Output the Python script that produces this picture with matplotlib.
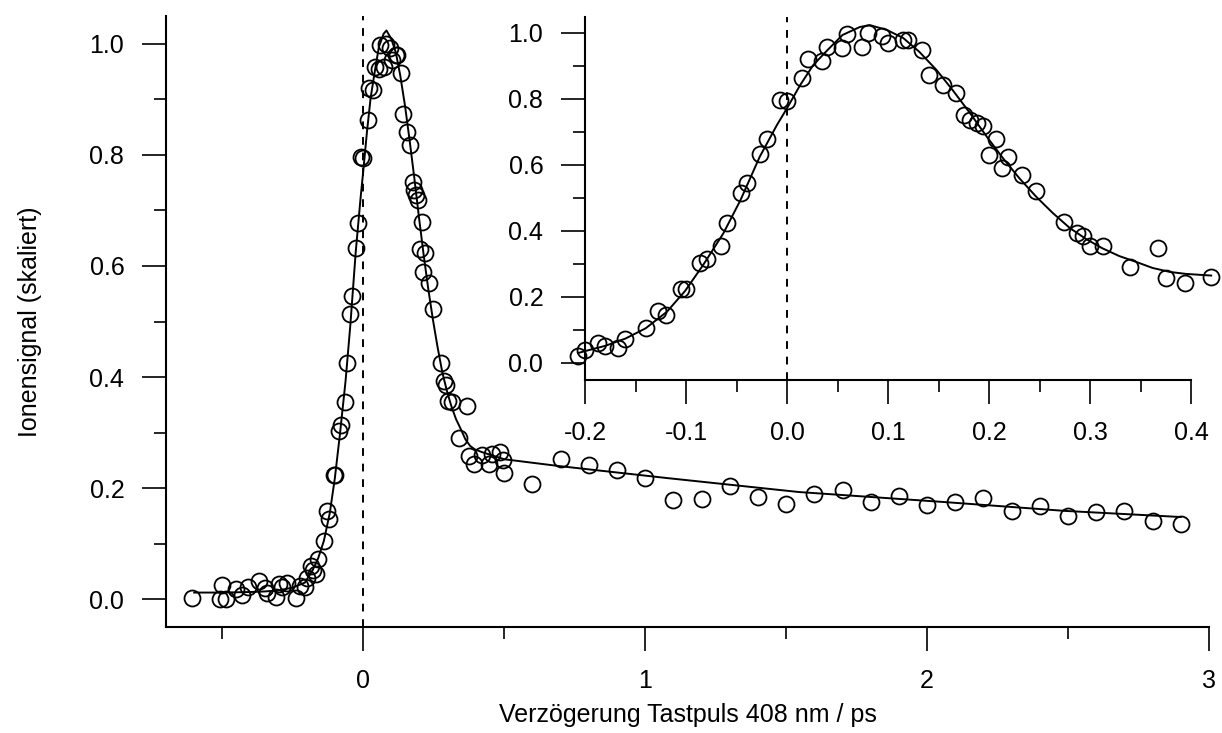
import matplotlib
matplotlib.use("Agg")
import matplotlib.pyplot as plt
from matplotlib.ticker import MultipleLocator, FormatStrFormatter

plt.rcParams['font.family'] = ['Liberation Sans', 'DejaVu Sans']

# ---- measured data (delay in ps, scaled ion signal) ----
delay = [-0.606, -0.507, -0.500, -0.486, -0.450, -0.430, -0.410, -0.370, -0.350, -0.340,
         -0.310, -0.300, -0.290, -0.270, -0.240, -0.225,
         -0.207, -0.200, -0.187, -0.180, -0.167, -0.160, -0.140, -0.128, -0.120, -0.105,
         -0.100, -0.086, -0.079, -0.065, -0.059, -0.046, -0.040, -0.027, -0.020, -0.007,
         0.000, 0.015, 0.021, 0.035, 0.040, 0.054, 0.059, 0.074, 0.080, 0.094,
         0.100, 0.115, 0.120, 0.134, 0.141, 0.154, 0.167, 0.175, 0.181, 0.188,
         0.194, 0.200, 0.207, 0.213, 0.219, 0.233, 0.247, 0.274, 0.287, 0.293,
         0.300, 0.313, 0.340, 0.367, 0.375, 0.394, 0.420,
         0.447, 0.455, 0.485, 0.497, 0.500,
         0.6, 0.7, 0.8, 0.9, 1.0, 1.1, 1.2, 1.3, 1.4, 1.5, 1.6, 1.7, 1.8, 1.9,
         2.0, 2.1, 2.2, 2.3, 2.4, 2.5, 2.6, 2.7, 2.8, 2.9]
signal = [0.002, 0.000, 0.025, 0.000, 0.018, 0.007, 0.022, 0.032, 0.020, 0.011,
          0.004, 0.027, 0.022, 0.029, 0.003, 0.024,
          0.022, 0.039, 0.060, 0.052, 0.045, 0.072, 0.105, 0.159, 0.145, 0.223,
          0.223, 0.302, 0.314, 0.355, 0.425, 0.514, 0.546, 0.633, 0.678, 0.797,
          0.794, 0.863, 0.920, 0.916, 0.958, 0.954, 0.997, 0.958, 1.000, 0.992,
          0.970, 0.979, 0.979, 0.948, 0.873, 0.842, 0.818, 0.751, 0.736, 0.727,
          0.718, 0.630, 0.680, 0.590, 0.623, 0.570, 0.522, 0.426, 0.393, 0.385,
          0.356, 0.355, 0.291, 0.348, 0.257, 0.243, 0.260,
          0.243, 0.261, 0.265, 0.250, 0.228,
          0.208, 0.253, 0.241, 0.232, 0.219, 0.178, 0.181, 0.204, 0.184, 0.171,
          0.189, 0.196, 0.175, 0.186, 0.169, 0.175, 0.183, 0.159, 0.168, 0.150,
          0.157, 0.159, 0.141, 0.136]

# ---- fit curve ----
fit_x = [-0.60, -0.50, -0.40, -0.35, -0.30, -0.25, -0.207, -0.20, -0.18, -0.16, -0.14,
         -0.119, -0.101, -0.083, -0.063, -0.046, -0.027, -0.010, 0.000, 0.013, 0.026,
         0.040, 0.055, 0.072, 0.082, 0.099, 0.115, 0.131, 0.148, 0.164, 0.181, 0.198,
         0.214, 0.230, 0.247, 0.263, 0.280, 0.296, 0.312, 0.329, 0.346, 0.362, 0.379,
         0.395, 0.420, 0.50, 0.69, 1.08, 1.545, 2.06, 2.49, 2.90]
fit_y = [0.012, 0.012, 0.013, 0.014, 0.016, 0.021, 0.030, 0.036, 0.052, 0.074, 0.105,
         0.155, 0.218, 0.297, 0.393, 0.494, 0.625, 0.721, 0.772, 0.842, 0.903,
         0.948, 0.994, 1.018, 1.024, 1.009, 0.985, 0.943, 0.888, 0.827, 0.758, 0.685,
         0.620, 0.560, 0.503, 0.455, 0.409, 0.376, 0.348, 0.324, 0.306, 0.288, 0.276,
         0.270, 0.265, 0.252, 0.240, 0.218, 0.193, 0.175, 0.159, 0.148]

x_label = "Verzögerung Tastpuls 408 nm / ps"
y_label = "Ionensignal (skaliert)"
inset_range = (-0.21, 0.425)

W, H = 1222, 733
fig = plt.figure(figsize=(W / 100, H / 100), dpi=100)

FS = 18
LW = 1.4
mk = dict(marker='o', ms=11.5, mfc='none', mec='black', mew=1.3, ls='none')


def style_axes(ax):
    for s in ('top', 'right'):
        ax.spines[s].set_visible(False)
    for s in ('left', 'bottom'):
        ax.spines[s].set_linewidth(1.5)
    ax.tick_params(which='major', direction='out', length=17, width=1.2,
                   pad=13, labelsize=FS)
    ax.tick_params(which='minor', direction='out', length=8.5, width=1.2)
    ax.patch.set_alpha(0)


# main axes
ax = fig.add_axes([166 / W, 1 - 627 / H, (1209 - 166) / W, (627 - 16) / H])
style_axes(ax)
ax.set_xlim(-0.7, 3.0)
ax.set_ylim(-0.05, 1.05)
ax.xaxis.set_major_locator(MultipleLocator(1))
ax.xaxis.set_minor_locator(MultipleLocator(0.5))
ax.yaxis.set_major_locator(MultipleLocator(0.2))
ax.yaxis.set_minor_locator(MultipleLocator(0.1))
ax.yaxis.set_major_formatter(FormatStrFormatter('%.1f'))
ax.xaxis.set_major_formatter(FormatStrFormatter('%d'))
ax.axvline(0, color='black', lw=1.4, ls=(0, (4, 4)))
ax.plot(fit_x, fit_y, color='black', lw=LW)
ax.plot(delay, signal, **mk)
ax.set_xlabel(x_label, fontsize=FS)
ax.set_ylabel(y_label, fontsize=FS)
ax.xaxis.set_label_coords(0.5, (627 - 715) / 611)
ax.xaxis.label.set_va('center')
ax.yaxis.set_label_coords((30 - 166) / 1043, 0.5)
ax.yaxis.label.set_va('center')

# inset axes
ins = fig.add_axes([585 / W, 1 - 379.5 / H, (1191 - 585) / W, (379.5 - 16.5) / H])
style_axes(ins)
ins.set_xlim(-0.2, 0.4)
ins.set_ylim(-0.05, 1.05)
ins.xaxis.set_major_locator(MultipleLocator(0.1))
ins.xaxis.set_minor_locator(MultipleLocator(0.05))
ins.yaxis.set_major_locator(MultipleLocator(0.2))
ins.yaxis.set_minor_locator(MultipleLocator(0.1))
ins.yaxis.set_major_formatter(FormatStrFormatter('%.1f'))
ins.xaxis.set_major_formatter(FormatStrFormatter('%.1f'))
ins.axvline(0, color='black', lw=1.4, ls=(0, (4, 4)))
lo, hi = inset_range
fx = [x for x in fit_x if lo <= x <= hi]
fy = [y for x, y in zip(fit_x, fit_y) if lo <= x <= hi]
dx = [x for x in delay if lo <= x <= hi]
dy = [y for x, y in zip(delay, signal) if lo <= x <= hi]
ins.plot(fx, fy, color='black', lw=LW, clip_on=False)
ins.plot(dx, dy, clip_on=False, **mk)

fig.savefig('out.png', dpi=100)
